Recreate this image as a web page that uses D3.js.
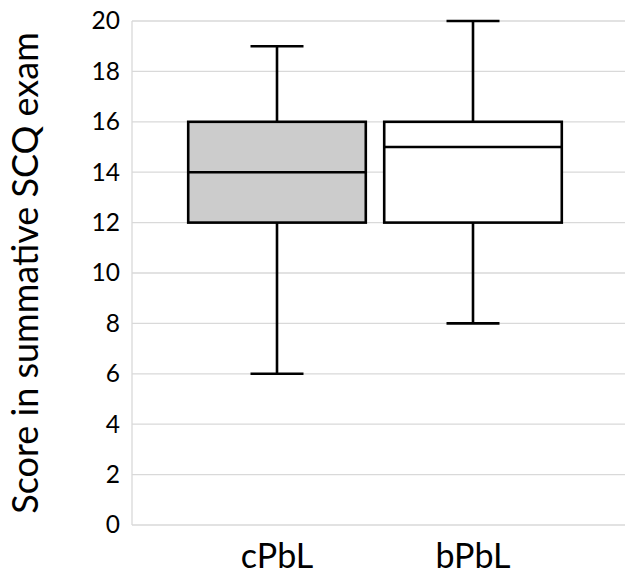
<!DOCTYPE html>
<html>
<head>
<meta charset="utf-8">
<script src="https://cdn.jsdelivr.net/npm/d3@7"></script>
<style>
  body { margin: 0; background: #fff; }
  text { font-family: Lato, "Open Sans", sans-serif; fill: #000; }
</style>
</head>
<body>
<svg id="chart" width="625" height="574"></svg>
<script>
// box-plot summary values
const categories = ['cPbL', 'bPbL'];
const mins    = [6, 8];
const q1s     = [12, 12];
const medians = [14, 15];
const q3s     = [16, 16];
const maxs    = [19, 20];
const fills   = ['#cccccc', '#ffffff'];
const yTicks  = [0, 2, 4, 6, 8, 10, 12, 14, 16, 18, 20];

const width = 625, height = 574;
const margin = {top: 21, right: 0, bottom: 49, left: 132};

const svg = d3.select('#chart');

const y = d3.scaleLinear()
    .domain([0, 20])
    .range([height - margin.bottom, margin.top]);

const x = d3.scaleBand()
    .domain(categories)
    .range([179, 571])
    .paddingInner(0.094)
    .paddingOuter(0.047);

const data = categories.map(function(c, i) {
  return {cat: c, min: mins[i], q1: q1s[i], med: medians[i], q3: q3s[i], max: maxs[i], fill: fills[i]};
});

// gridlines
svg.append('g')
  .selectAll('line')
  .data(yTicks)
  .enter().append('line')
    .attr('x1', margin.left)
    .attr('x2', width - margin.right)
    .attr('y1', function(d) { return y(d); })
    .attr('y2', function(d) { return y(d); })
    .attr('stroke', '#d9d9d9')
    .attr('stroke-width', 1.3);

// left axis line
svg.append('line')
  .attr('x1', margin.left).attr('x2', margin.left)
  .attr('y1', y(20)).attr('y2', y(0))
  .attr('stroke', '#d9d9d9')
  .attr('stroke-width', 1.3);

// y tick labels
const yAxis = d3.axisLeft(y).tickValues(yTicks).tickSize(0).tickPadding(12);
const gy = svg.append('g')
  .attr('transform', 'translate(' + margin.left + ',0)')
  .call(yAxis);
gy.select('.domain').remove();
gy.selectAll('text')
  .style('font-family', 'Lato, "Open Sans", sans-serif')
  .style('font-size', '24.5px')
  .attr('fill', '#000');

// y axis title
svg.append('text')
  .attr('transform', 'translate(38,' + (y(10) + 0) + ') rotate(-90)')
  .attr('text-anchor', 'middle')
  .style('font-size', '36px')
  .text('Score in summative SCQ exam');

// x category labels
const xAxis = d3.axisBottom(x).tickSize(0).tickPadding(19);
const gx = svg.append('g')
  .attr('transform', 'translate(0,' + y(0) + ')')
  .call(xAxis);
gx.select('.domain').remove();
gx.selectAll('text')
  .style('font-family', 'Lato, "Open Sans", sans-serif')
  .style('font-size', '34px')
  .attr('fill', '#000');

// boxes
const boxes = svg.append('g')
  .selectAll('g')
  .data(data)
  .enter().append('g');

const capHalf = 26.5;
const sw = 2.6;

boxes.append('line')
  .attr('x1', function(d) { return x(d.cat) + x.bandwidth() / 2; })
  .attr('x2', function(d) { return x(d.cat) + x.bandwidth() / 2; })
  .attr('y1', function(d) { return y(d.max); })
  .attr('y2', function(d) { return y(d.q3); })
  .attr('stroke', '#000').attr('stroke-width', sw);

boxes.append('line')
  .attr('x1', function(d) { return x(d.cat) + x.bandwidth() / 2; })
  .attr('x2', function(d) { return x(d.cat) + x.bandwidth() / 2; })
  .attr('y1', function(d) { return y(d.q1); })
  .attr('y2', function(d) { return y(d.min); })
  .attr('stroke', '#000').attr('stroke-width', sw);

['max', 'min'].forEach(function(k) {
  boxes.append('line')
    .attr('x1', function(d) { return x(d.cat) + x.bandwidth() / 2 - capHalf; })
    .attr('x2', function(d) { return x(d.cat) + x.bandwidth() / 2 + capHalf; })
    .attr('y1', function(d) { return y(d[k]); })
    .attr('y2', function(d) { return y(d[k]); })
    .attr('stroke', '#000').attr('stroke-width', sw);
});

boxes.append('rect')
  .attr('x', function(d) { return x(d.cat); })
  .attr('width', x.bandwidth())
  .attr('y', function(d) { return y(d.q3); })
  .attr('height', function(d) { return y(d.q1) - y(d.q3); })
  .attr('fill', function(d) { return d.fill; })
  .attr('stroke', '#000').attr('stroke-width', sw);

boxes.append('line')
  .attr('x1', function(d) { return x(d.cat); })
  .attr('x2', function(d) { return x(d.cat) + x.bandwidth(); })
  .attr('y1', function(d) { return y(d.med); })
  .attr('y2', function(d) { return y(d.med); })
  .attr('stroke', '#000').attr('stroke-width', sw);
</script>
</body>
</html>
